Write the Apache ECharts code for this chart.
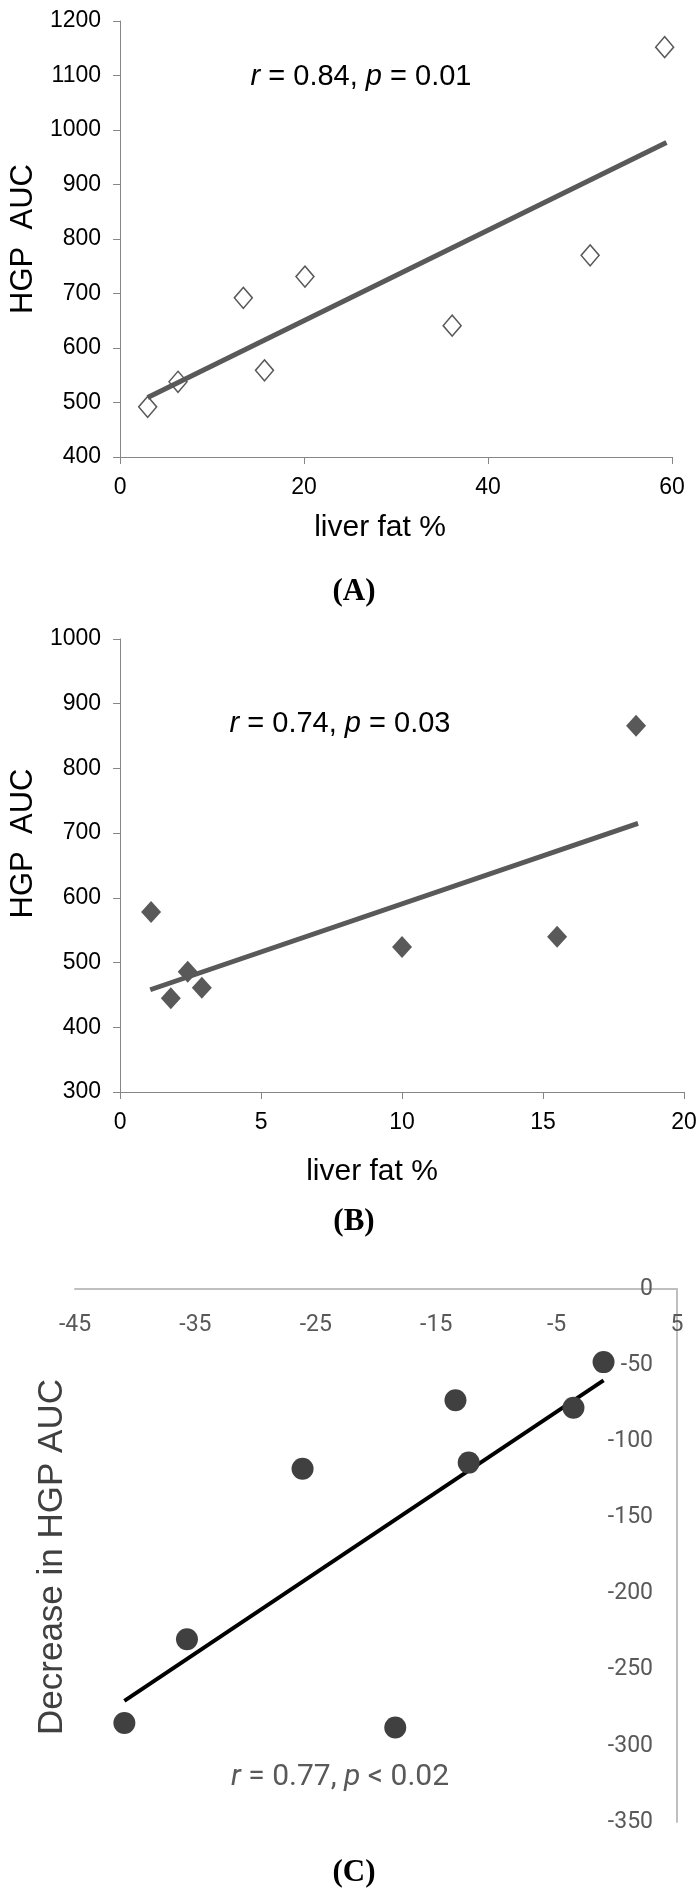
<!DOCTYPE html>
<html>
<head>
<meta charset="utf-8">
<script src="https://cdn.jsdelivr.net/npm/echarts@6/dist/echarts.min.js"></script>
<style>
  html, body { margin: 0; padding: 0; background: #fff; }
  #chart { width: 700px; height: 1900px; }
</style>
</head>
<body>
<div id="chart"></div>
<script>
// ---------- Panel A ----------
const xTicksA = [0, 20, 40, 60];
const yTicksA = [400, 500, 600, 700, 800, 900, 1000, 1100, 1200];
const liverFatA = [3.0, 6.3, 13.4, 15.7, 20.1, 36.1, 51.1, 59.2];
const hgpAucA = [492, 538, 692, 559, 731, 641, 770, 1152];
const trendAx = [3.0, 59.4];
const trendAy = [509, 977];

// ---------- Panel B ----------
const xTicksB = [0, 5, 10, 15, 20];
const yTicksB = [300, 400, 500, 600, 700, 800, 900, 1000];
const liverFatB = [1.1, 1.8, 2.4, 2.9, 10.0, 15.5, 18.3];
const hgpAucB = [578, 445, 486, 461, 524, 540, 866];
const trendBx = [1.07, 18.37];
const trendBy = [458, 715];

// ---------- Panel C ----------
const xTicksC = ['-45', '-35', '-25', '-15', '-5', '5'];
const xRangeC = [-45, 5];
const yTicksC = [-350, -300, -250, -200, -150, -100, -50, 0];
const fatChangeC = [-1.1, -13.4, -3.6, -12.3, -26.1, -35.7, -40.9, -18.4];
const hgpChangeC = [-48, -73, -78, -114, -118, -230, -285, -288];
const trendCx = [-40.9, -1.1];
const trendCy = [-270.5, -60];

const pairs = (xs, ys) => xs.map((x, i) => [x, ys[i]]);
const SANS = '"Liberation Sans", Arial, sans-serif';
const SERIF = '"Liberation Serif", "Times New Roman", serif';
const AXC = '#868686';
const plain = v => String(v);

function abXAxis(grid, ticks, nameGap, namePad) {
  return {
    gridIndex: grid, type: 'value',
    min: ticks[0], max: ticks[ticks.length - 1], interval: ticks[1] - ticks[0],
    axisLine: { show: true, onZero: false, lineStyle: { color: AXC, width: 1 } },
    axisTick: { show: true, length: 7, lineStyle: { color: AXC } },
    axisLabel: { margin: 19, fontSize: 23, color: '#000', fontFamily: SANS, formatter: plain },
    splitLine: { show: false },
    name: 'liver fat %', nameLocation: 'middle', nameGap: nameGap,
    nameTextStyle: { fontSize: 30, color: '#000', fontFamily: SANS, padding: namePad }
  };
}
function abYAxis(grid, ticks, nameGap, namePad) {
  return {
    gridIndex: grid, type: 'value',
    min: ticks[0], max: ticks[ticks.length - 1], interval: ticks[1] - ticks[0],
    axisLine: { show: true, onZero: false, lineStyle: { color: AXC, width: 1 } },
    axisTick: { show: true, length: 7, lineStyle: { color: AXC } },
    axisLabel: { margin: 19, fontSize: 23, color: '#000', fontFamily: SANS, formatter: plain },
    splitLine: { show: false },
    name: 'HGP  AUC', nameLocation: 'middle', nameGap: nameGap,
    nameTextStyle: { fontSize: 31, color: '#000', fontFamily: SANS, padding: namePad }
  };
}

const chart = echarts.init(document.getElementById('chart'), null, { renderer: 'canvas' });
const option = {
  animation: false,
  backgroundColor: '#fff',
  grid: [
    { left: 116, top: 21, width: 556, height: 436 },
    { left: 112, top: 639, width: 572, height: 453 },
    { left: 75, top: 1289, width: 602, height: 533 }
  ],
  xAxis: [
    abXAxis(0, xTicksA, 56, [0, 32, 0, 0]),
    abXAxis(1, xTicksB, 65, [0, 60, 0, 0]),
    { gridIndex: 2, type: 'value', min: xRangeC[0], max: xRangeC[1], show: false },
    {
      gridIndex: 2, type: 'value', position: 'top',
      min: 0, max: xTicksC.length - 1, interval: 1,
      axisLine: { show: true, onZero: false, lineStyle: { color: '#bfbfbf', width: 2 } },
      axisTick: { show: false },
      axisLabel: { inside: true, margin: 25, fontSize: 23, color: '#595959', fontFamily: 'Roboto, sans-serif',
        formatter: v => xTicksC[v] },
      splitLine: { show: false }
    }
  ],
  yAxis: [
    abYAxis(0, yTicksA, 68, [0, 0, 0, 0]),
    abYAxis(1, yTicksB, 65, [0, 0, 0, 44]),
    {
      gridIndex: 2, type: 'value', position: 'right',
      min: yTicksC[0], max: yTicksC[yTicksC.length - 1], interval: yTicksC[1] - yTicksC[0],
      axisLine: { show: true, onZero: false, lineStyle: { color: '#bfbfbf', width: 2 } },
      axisTick: { show: false },
      axisLabel: { inside: true, margin: 24, fontSize: 23, color: '#595959', fontFamily: 'Roboto, sans-serif', formatter: plain },
      splitLine: { show: false }
    }
  ],
  series: [
    { type: 'line', xAxisIndex: 0, yAxisIndex: 0, data: pairs(trendAx, trendAy), symbol: 'none',
      lineStyle: { color: '#595959', width: 5 }, z: 2 },
    { type: 'scatter', xAxisIndex: 0, yAxisIndex: 0, data: pairs(liverFatA, hgpAucA),
      symbol: 'diamond', symbolSize: [18, 21],
      itemStyle: { color: 'rgba(255,255,255,0)', borderColor: '#595959', borderWidth: 1.5, opacity: 1 }, z: 3 },

    { type: 'line', xAxisIndex: 1, yAxisIndex: 1, data: pairs(trendBx, trendBy), symbol: 'none',
      lineStyle: { color: '#595959', width: 5 }, z: 2 },
    { type: 'scatter', xAxisIndex: 1, yAxisIndex: 1, data: pairs(liverFatB, hgpAucB),
      symbol: 'diamond', symbolSize: [20, 22],
      itemStyle: { color: '#595959', opacity: 1 }, z: 3 },

    { type: 'line', xAxisIndex: 2, yAxisIndex: 2, data: pairs(trendCx, trendCy), symbol: 'none',
      lineStyle: { color: '#000', width: 4 }, z: 2 },
    { type: 'scatter', xAxisIndex: 2, yAxisIndex: 2, data: pairs(fatChangeC, hgpChangeC),
      symbol: 'circle', symbolSize: 22,
      itemStyle: { color: '#404040', opacity: 1 }, z: 3 }
  ],
  graphic: [
    { type: 'text', x: 361, y: 77, style: {
        text: '{i|r} = 0.84, {i|p} = 0.01', fill: '#000', fontSize: 29, fontFamily: SANS,
        align: 'center', verticalAlign: 'middle',
        rich: { i: { fontStyle: 'italic', fontSize: 29, fontFamily: SANS, fill: '#000' } } } },
    { type: 'text', x: 340, y: 724, style: {
        text: '{i|r} = 0.74, {i|p} = 0.03', fill: '#000', fontSize: 29, fontFamily: SANS,
        align: 'center', verticalAlign: 'middle',
        rich: { i: { fontStyle: 'italic', fontSize: 29, fontFamily: SANS, fill: '#000' } } } },
    { type: 'text', x: 340, y: 1777, style: {
        text: '{i|r} = 0.77, {i|p} < 0.02', fill: '#595959', fontSize: 30, fontFamily: 'Roboto, sans-serif',
        align: 'center', verticalAlign: 'middle',
        rich: { i: { fontStyle: 'italic', fontSize: 30, fontFamily: 'Roboto, sans-serif', fill: '#595959' } } } },
    { type: 'text', x: 52, y: 1557, rotation: Math.PI / 2, style: {
        text: 'Decrease in HGP AUC', fill: '#404040', fontSize: 35, fontFamily: SANS,
        align: 'center', verticalAlign: 'middle' } },
    { type: 'text', x: 354, y: 592, style: { text: '(A)', fill: '#000', fontSize: 31, fontWeight: 'bold',
        fontFamily: SERIF, align: 'center', verticalAlign: 'middle' } },
    { type: 'text', x: 354, y: 1222, style: { text: '(B)', fill: '#000', fontSize: 31, fontWeight: 'bold',
        fontFamily: SERIF, align: 'center', verticalAlign: 'middle' } },
    { type: 'text', x: 354, y: 1873, style: { text: '(C)', fill: '#000', fontSize: 31, fontWeight: 'bold',
        fontFamily: SERIF, align: 'center', verticalAlign: 'middle' } }
  ]
};
chart.setOption(option);
</script>
</body>
</html>
